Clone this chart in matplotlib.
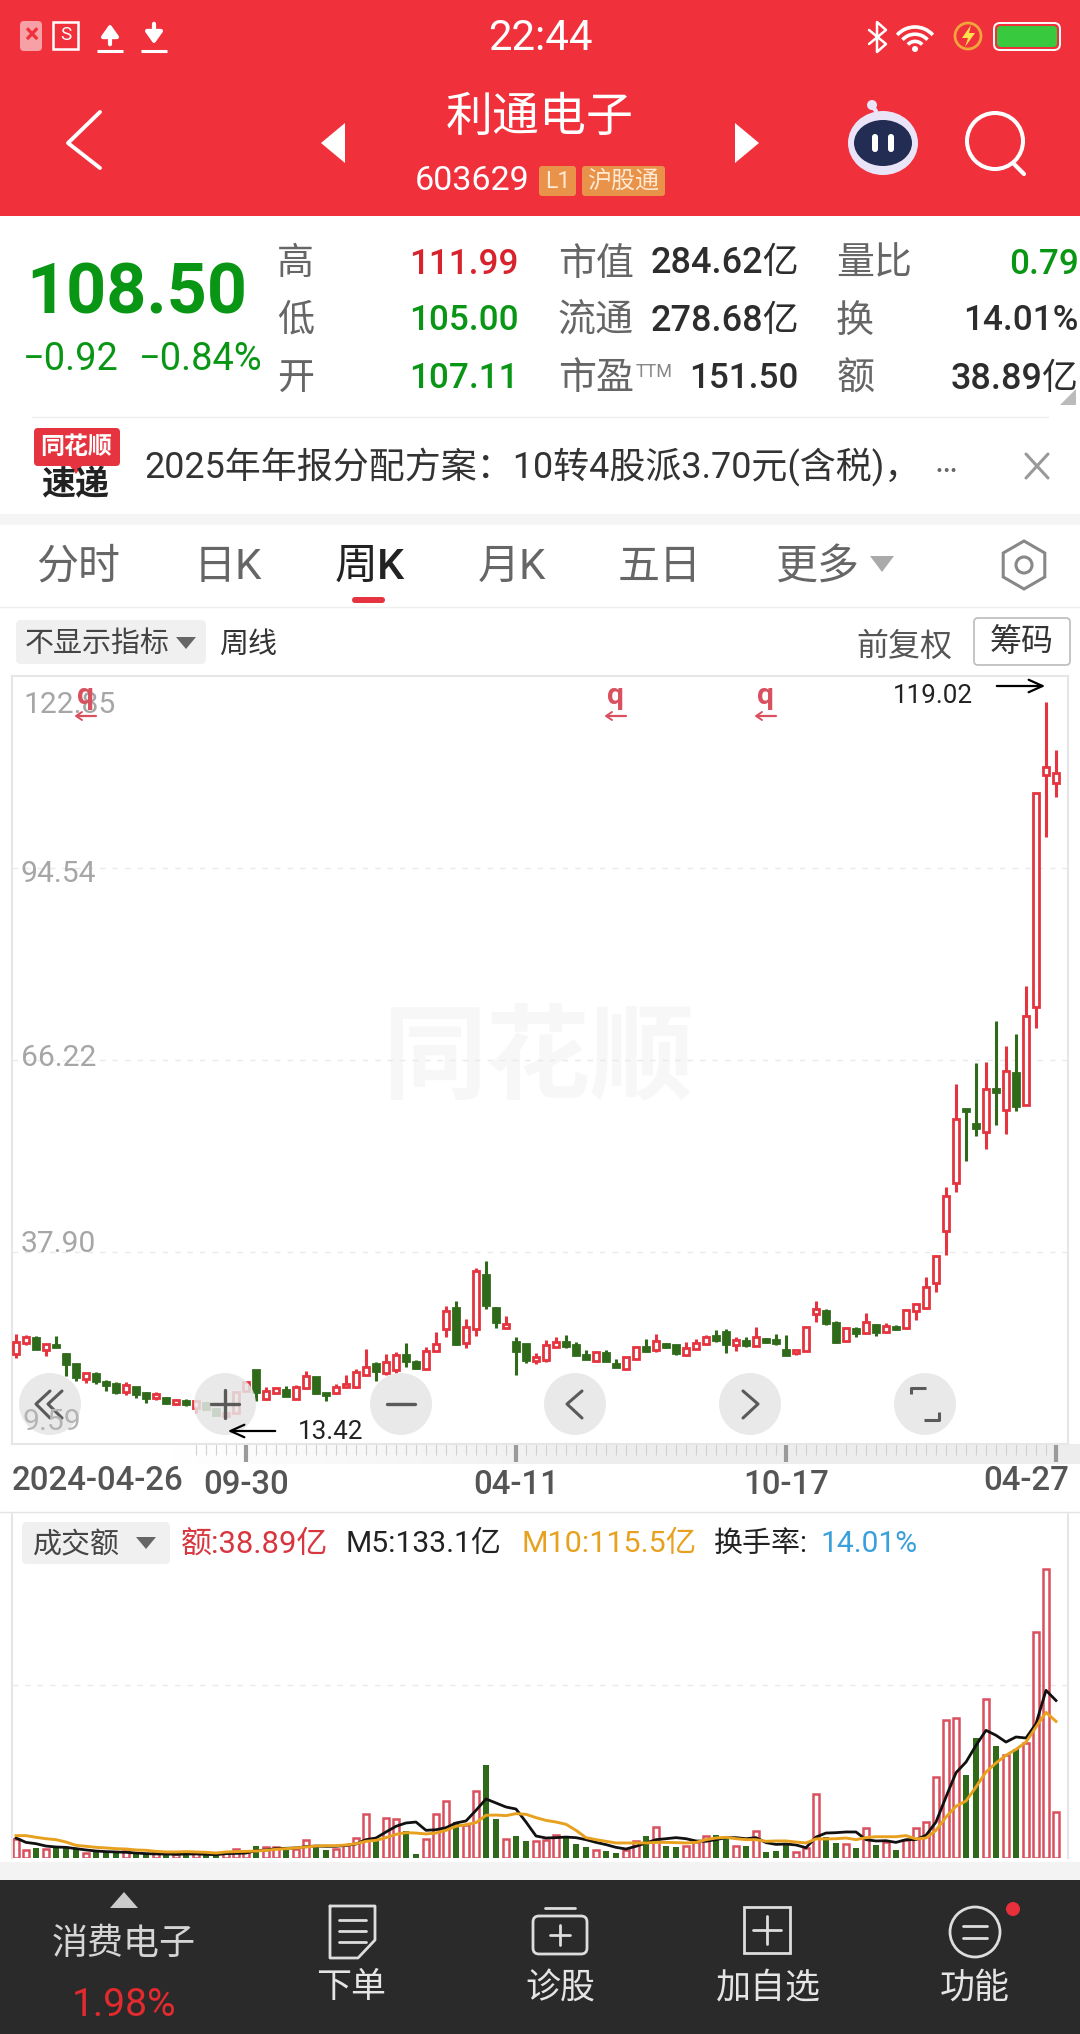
import numpy as np
import matplotlib
matplotlib.use('Agg')
import matplotlib.pyplot as plt
from matplotlib.patches import Rectangle, Circle, FancyBboxPatch, Polygon, Ellipse, RegularPolygon, Arc

plt.rcParams['font.family'] = ['Roboto', 'Noto Sans CJK SC', 'DejaVu Sans']

# weekly k line
opens = [22.86,24.53,25.17,23.45,24.14,22.86,21.38,19.12,19.91,18.68,18.38,17.25,17.99,17.06,16.32,16.37,15.53,15.93,14.84,15.68,14.75,13.71,14.11,17.4,20.5,
16.17,17.15,17.55,16.27,17.79,19.42,17.15,17.06,18.04,18.04,19.71,21.38,20.0,20.5,22.71,21.73,20.65,23.35,26.5,29.59,
24.43,26.5,34.51,29.59,26.74,24.63,24.33,21.83,21.97,23.94,24.63,24.18,22.71,21.87,22.96,21.38,20.6,22.17,23.84,23.45,
24.38,24.14,22.66,23.55,24.28,25.51,26.14,24.24,24.82,24.09,25.04,24.89,23.43,23.06,23.35,28.71,29.22,27.46,24.82,26.51,
25.92,27.1,26.14,26.88,26.66,29.22,29.59,33.33,40.96,48.01,59.02,56.82,55.64,61.88,58.87,64.37,59.53,73.98,108.18,107.11]
highs = [25.76,25.66,25.51,24.28,25.51,22.96,21.38,20.0,20.15,18.97,18.73,18.73,17.99,17.2,17.2,16.56,16.17,16.27,15.88,15.68,14.75,14.35,17.2,18.68,20.5,
17.94,17.79,18.14,18.29,20.4,19.42,17.15,18.43,19.76,20.6,23.59,21.73,22.81,23.1,24.43,21.97,23.84,26.05,29.94,30.67,
27.97,35.59,36.57,29.74,28.46,25.32,24.33,23.05,24.92,25.32,25.66,24.58,23.45,23.2,23.45,22.12,22.46,24.04,25.07,25.76,
24.53,24.23,24.58,25.02,25.66,26.4,26.51,25.41,25.41,26.88,25.26,25.78,25.63,23.5,26.88,30.69,29.52,27.76,26.88,26.88,
28.86,27.24,27.39,27.17,29.44,30.32,34.21,37.52,47.42,62.68,59.16,65.77,65.99,71.93,68.34,70.02,77.14,105.54,119.02,111.99]
lows = [22.22,24.18,23.55,22.61,23.94,19.61,18.92,18.63,18.48,17.45,17.0,16.81,16.42,15.68,16.07,15.48,15.39,15.24,14.2,14.75,13.91,13.42,14.11,17.3,15.97,
16.07,17.06,16.71,16.17,17.7,16.96,15.97,16.96,17.99,17.79,19.61,18.92,19.76,20.0,20.99,20.65,20.5,23.2,25.41,24.18,
23.79,25.56,29.49,26.74,26.64,19.76,21.58,21.38,21.73,23.84,23.74,22.71,22.12,21.73,21.87,20.94,20.5,22.07,23.2,23.2,
23.74,22.76,22.61,23.55,24.18,24.68,23.06,23.35,23.94,24.09,24.45,24.16,22.77,22.77,23.35,27.61,27.17,24.53,24.67,25.41,
25.78,25.56,26.0,26.44,26.51,27.9,29.44,32.01,37.52,46.69,51.31,54.98,53.15,56.6,55.35,58.65,59.53,70.9,99.15,105.0]
closes = [24.68,25.32,23.55,24.28,23.94,21.38,19.51,20.0,18.92,18.33,17.3,18.33,16.91,16.37,16.91,15.68,16.02,15.53,15.88,14.75,13.91,14.11,17.2,18.68,17.3,
17.45,17.79,16.71,18.04,19.66,17.06,16.76,18.04,18.43,20.15,20.99,20.35,21.63,22.71,21.87,20.84,23.3,24.33,29.25,24.28,
26.79,35.15,30.08,27.58,27.23,23.3,21.97,22.46,24.18,24.58,24.04,22.76,22.17,23.1,21.87,20.99,22.46,23.94,23.3,24.82,
23.94,22.96,23.79,24.53,25.41,24.92,24.31,24.97,24.24,25.41,24.6,24.53,22.77,23.5,26.88,29.44,27.46,24.67,26.73,25.92,
27.61,26.14,27.02,26.51,29.3,30.18,32.75,37.37,46.1,57.55,58.72,56.23,61.88,61.44,64.59,59.46,72.74,105.54,109.42,108.5]

# turnover in 亿 and its moving averages
volume = [16.3,6.5,8.7,7.6,10.1,9.3,7.9,4.2,4.8,5.4,4.2,5.9,5.4,3.7,5.1,4.2,3.7,4.2,5.1,4.2,3.7,5.1,7.6,5.1,10.4,
9.3,9.3,6.5,7.9,14.9,10.7,6.5,7.6,10.7,16.9,36.9,16.3,33.8,33.0,23.1,3.1,16.1,36.9,48.2,30.4,
27.6,56.6,78.3,32.7,16.1,18.3,14.1,14.4,14.9,19.2,16.9,12.1,9.0,6.5,6.2,4.5,7.0,14.4,18.9,26.2,
9.9,9.0,10.1,13.5,18.3,19.7,16.3,10.1,9.9,22.8,4.8,5.6,12.1,5.1,8.7,53.8,17.7,12.4,11.8,8.2,
25.4,10.7,13.5,6.5,14.9,25.4,30.4,68.5,116.3,118.3,69.9,101.7,134.1,94.4,87.0,92.4,97.2,191.0,244.0,38.89]
m5 = [16.9,13.2,12.1,10.1,9.3,9.0,7.9,6.8,5.9,5.4,5.1,4.8,4.2,3.7,3.4,3.4,3.1,3.4,3.4,3.1,2.8,3.7,3.9,4.2,6.2,
6.8,7.9,8.2,8.5,9.6,10.1,9.9,9.9,10.7,11.8,15.5,16.9,22.0,26.8,29.6,30.4,23.4,23.9,25.6,29.6,
31.3,40.3,49.9,46.5,43.1,41.4,30.4,18.6,16.9,17.2,17.7,17.2,15.5,13.2,11.3,9.0,7.6,9.9,12.7,15.5,
16.3,17.2,16.3,14.4,14.1,15.5,17.2,17.2,16.3,17.2,13.0,11.5,11.8,11.0,8.7,17.7,21.1,21.4,22.0,22.0,
15.5,14.4,14.6,13.2,15.5,15.5,19.2,30.4,51.6,72.1,81.1,95.2,107.9,103.7,98.0,102.3,101.4,113.5,141.7,133.1]
m10 = [18.9,18.9,17.5,16.3,15.5,13.5,10.7,9.9,9.0,8.5,7.9,7.6,6.8,6.5,5.6,5.1,5.1,5.4,5.1,4.8,4.2,5.1,5.4,5.6,5.9,
6.5,7.3,7.9,8.5,9.3,10.1,10.4,10.4,11.0,12.1,14.1,14.9,17.2,20.0,21.4,21.1,20.3,21.1,23.4,26.8,
28.2,29.9,36.1,36.3,35.8,37.5,36.9,34.1,31.8,30.4,28.5,23.4,17.2,15.5,14.1,12.7,12.7,12.7,12.7,13.2,
13.2,13.0,12.7,13.2,15.5,16.9,17.5,16.3,15.5,15.5,14.1,14.4,14.4,13.5,12.7,16.1,16.1,16.3,16.9,15.5,
17.2,18.0,18.0,18.0,18.9,16.1,16.9,23.4,34.6,43.7,48.2,60.0,72.7,80.3,86.8,91.8,98.0,110.7,123.1,115.5]

price_ticks = [94.54, 66.22, 37.90]
date_ticks = [23, 50, 77]
date_labels = ['09-30', '04-11', '10-17']

RED = '#E5343F'
GREEN = '#2F6A1B'
VRED = '#D9505F'
W, H = 1080, 2034

fig = plt.figure(figsize=(10.8, 20.34), dpi=100)


def px_axes(l, t, r, b, z):
    return fig.add_axes([l / W, 1 - b / H, (r - l) / W, (b - t) / H], zorder=z)


bg = px_axes(0, 0, W, H, 0)
bg.set_xlim(0, W); bg.set_ylim(H, 0); bg.axis('off')
fg = px_axes(0, 0, W, H, 5)
fg.set_xlim(0, W); fg.set_ylim(H, 0); fg.axis('off'); fg.patch.set_alpha(0)


def t(x, y, s, px, color='#333333', ha='left', va='center', ax=fg, **kw):
    return ax.text(x, y + 6, s, fontsize=px * 0.72, color=color, ha=ha, va=va, **kw)


def line(xs, ys, color='white', lw=2.0, ax=fg, **kw):
    ax.plot(xs, ys, color=color, lw=lw, solid_capstyle=kw.pop('cap', 'round'), **kw)


# backgrounds
bg.add_patch(Rectangle((0, 0), W, 216, color='#F0313B', lw=0))
bg.add_patch(Rectangle((0, 514), W, 11, color='#F5F5F5', lw=0))
bg.plot([32, 1048], [417, 417], color='#EEEEEE', lw=1)
bg.plot([0, W], [607, 607], color='#EEEEEE', lw=1)
bg.plot([0, W], [1512, 1512], color='#E4E4E4', lw=1)
bg.add_patch(Rectangle((0, 1862), W, 18, color='#F3F3F3', lw=0))
bg.add_patch(Rectangle((0, 1880), W, 154, color='#2A2A2A', lw=0))
grad = np.linspace(0, 1, 256).reshape(1, -1)
bg.imshow(np.dstack([np.full((1, 256, 3), 0.93), np.clip(grad * 2, 0, 1)]), extent=(170, W, 1464, 1444), aspect='auto', zorder=1)
bg.set_xlim(0, W); bg.set_ylim(H, 0)
t(538, 1056, '同花顺', 104, '#F7F7F7', 'center', ax=bg, fontweight='bold', zorder=2)

# candles
price = px_axes(12, 676, 1068, 1444, 2)
price.patch.set_alpha(0)
xs = np.arange(len(opens))
for i in xs:
    o, h, l, c = opens[i], highs[i], lows[i], closes[i]
    up = c >= o
    col = RED if up else GREEN
    top, bot = max(o, c), min(o, c)
    price.vlines(i, top, h, color=col, lw=2.2)
    price.vlines(i, l, bot, color=col, lw=2.2)
    price.bar(i, top - bot, bottom=bot, width=0.58, facecolor='white' if up else col, edgecolor=col, lw=2.0, zorder=3)
price.set_xlim(-0.4, 105.2)
price.set_ylim(9.59, 122.85)
price.set_yticks(price_ticks)
price.set_yticklabels([])
price.tick_params(axis='y', length=0)
price.grid(axis='y', color='#EAEAEA', ls=(0, (4, 5)), lw=1)
price.set_axisbelow(True)
price.set_xticks(date_ticks + [104])
price.set_xticklabels(date_labels + [''], fontsize=33 * 0.72, color='#555555', fontweight='medium')
price.tick_params(axis='x', which='major', length=13, width=3, color='#9A9A9A', pad=5)
price.set_xticks(np.arange(18, 105), minor=True)
price.tick_params(axis='x', which='minor', length=8, width=0.8, color='#D0D0D0')
for s in price.spines.values():
    s.set_color('#E6E6E6'); s.set_linewidth(1.5)

# turnover pane
vol = px_axes(12, 1513, 1068, 1858, 2)
vol.patch.set_alpha(0)
for i in xs:
    if closes[i] >= opens[i]:
        vol.bar(i, volume[i], width=0.52, facecolor='white', edgecolor=VRED, lw=1.8)
    else:
        vol.bar(i, volume[i], width=0.65, color=GREEN, lw=0)
vol.plot(xs, m5, color='#111111', lw=2.0, zorder=4)
vol.plot(xs, m10, color='#E8A11F', lw=2.1, zorder=5)
vol.set_xlim(-0.4, 105.2)
vol.set_ylim(0, 291.6)
vol.set_yticks([146])
vol.set_yticklabels([])
vol.set_xticks([])
vol.tick_params(axis='y', length=0)
vol.grid(axis='y', color='#EAEAEA', ls=(0, (4, 5)), lw=1)
vol.set_axisbelow(True)
for k, s in vol.spines.items():
    s.set_visible(k in ('left', 'right'))
    s.set_color('#E6E6E6'); s.set_linewidth(1.5)

# price labels on the chart
t(23, 699, '122.85', 30, '#A6A6A6')
t(21, 868, '94.54', 30, '#A6A6A6')
t(21, 1052, '66.22', 30, '#A6A6A6')
t(21, 1238, '37.90', 30, '#A6A6A6')
t(973, 690, '119.02', 26, '#222222', 'right')
fg.annotate('', xy=(1048, 686), xytext=(994, 686), arrowprops=dict(arrowstyle='->,head_width=0.45,head_length=1.0', color='black', lw=1.6))
t(298, 1426, '13.42', 26, '#222222')
fg.annotate('', xy=(225, 1431), xytext=(278, 1431), arrowprops=dict(arrowstyle='->,head_width=0.45,head_length=1.0', color='black', lw=1.6))
t(12, 1475, '2024-04-26', 33, '#555555', fontweight='medium')
t(1026, 1475, '04-27', 33, '#555555', 'center', fontweight='medium')
for qx in (86, 616, 766):
    t(qx, 690, 'q', 30, '#D9505F', 'center', fontweight='bold')
    line([qx - 8, qx + 10], [716, 716], '#D9505F', 1.6)
    line([qx - 4, qx - 10, qx - 4], [712, 716, 720], '#D9505F', 1.4)

# round buttons over the chart
for cx in (50, 225, 401, 575, 750, 925):
    fg.add_patch(Circle((cx, 1404), 31, facecolor='#E6E6E6', alpha=0.85, lw=0))
t(22, 1416, '9.59', 30, '#B4B4B4')
c = '#5A5A5A'
line([50, 36, 50], [1391, 1404, 1418], c, 2.2); line([62, 48, 62], [1391, 1404, 1418], c, 2.2)
line([225, 225], [1390, 1418], c, 2.4); line([211, 239], [1404, 1404], c, 2.4)
line([387, 415], [1404, 1404], c, 2.4)
line([582, 567, 582], [1391, 1404, 1418], c, 2.2)
line([743, 758, 743], [1391, 1404, 1418], c, 2.2)
line([911, 911, 926], [1394, 1388, 1388], c, 2.2, cap='butt')
line([924, 939, 939], [1420, 1420, 1412], c, 2.2, cap='butt')

# status bar
fg.add_patch(FancyBboxPatch((20, 21), 22, 30, boxstyle='round,pad=0,rounding_size=4', fc='#F7A0A5', lw=0))
t(31, 30, '×', 27, '#F0313B', 'center', fontweight='bold')
fg.add_patch(Rectangle((53, 22), 25, 27, fc='none', ec='white', lw=1.8))
t(66, 29, 'S', 19, 'white', 'center')
for ax_x, up in ((110, True), (154, False)):
    y0, y1 = (47, 21) if up else (21, 47)
    fg.annotate('', xy=(ax_x, y1), xytext=(ax_x, y0),
                arrowprops=dict(arrowstyle='-|>,head_width=0.5,head_length=0.7', color='white', lw=3))
    line([ax_x - 13, ax_x + 13], [51, 51], 'white', 2.2, cap='butt')
t(540, 32, '22:44', 42, 'white', 'center')
line([869, 886, 877, 877, 886, 869], [30, 44, 52, 22, 30, 44], 'white', 1.8)
for r in (30, 21, 12):
    fg.add_patch(Arc((915, 51), r * 1.6, r * 1.6, theta1=222, theta2=318, ec='white', lw=2.6))
fg.add_patch(Circle((915, 49), 3, fc='white', lw=0))
fg.add_patch(Circle((968, 36), 13, fc='none', ec='#F0A63A', lw=2))
fg.add_patch(Polygon([[971, 25], [962, 38], [968, 38], [965, 47], [975, 33], [969, 33]], fc='#FFE14D', lw=0))
fg.add_patch(FancyBboxPatch((994, 23), 66, 27, boxstyle='round,pad=0,rounding_size=6', fc='none', ec='white', lw=1.4))
fg.add_patch(FancyBboxPatch((997, 26), 60, 21, boxstyle='round,pad=0,rounding_size=4', fc='#38C93F', lw=0))

# title bar
line([100, 68, 100], [112, 143, 168], 'white', 2.8)
fg.add_patch(Polygon([[345, 123], [345, 163], [321, 143]], fc='white', lw=0))
fg.add_patch(Polygon([[735, 123], [735, 163], [759, 143]], fc='white', lw=0))
t(540, 112, '利通电子', 47, 'white', 'center', family=['Noto Sans CJK SC'])
t(472, 175, '603629', 34, 'white', 'center')
fg.add_patch(FancyBboxPatch((539, 166), 37, 30, boxstyle='round,pad=0,rounding_size=3', fc='#E8924A', lw=0))
t(557.5, 175, 'L1', 23, '#FFE9D2', 'center')
fg.add_patch(FancyBboxPatch((582, 166), 83, 30, boxstyle='round,pad=0,rounding_size=3', fc='#E8924A', lw=0))
t(623.5, 175, '沪股通', 24, '#FFE9D2', 'center')
fg.add_patch(Ellipse((883, 143), 70, 64, fc='#E9E4F7', lw=0))
fg.add_patch(Ellipse((883, 143), 58, 46, fc='#232C52', lw=0))
fg.add_patch(FancyBboxPatch((872, 134), 6, 18, boxstyle='round,pad=0,rounding_size=3', fc='white', lw=0))
fg.add_patch(FancyBboxPatch((888, 134), 6, 18, boxstyle='round,pad=0,rounding_size=3', fc='white', lw=0))
line([876, 872], [111, 106], '#E9E4F7', 3)
fg.add_patch(Circle((872, 105), 5, fc='#E9E4F7', lw=0))
fg.add_patch(Circle((995, 141), 28, fc='none', ec='white', lw=2.9))
line([1013, 1024], [163, 174], 'white', 3)

# quote table
G = '#0A9615'
K = '#2D2D2D'
L = '#666666'
t(26, 288, '108.50', 70, G, fontweight='bold')
t(23, 354, '−0.92', 38, G)
t(263, 354, '−0.84%', 38, G, 'right')
rows = [258, 315, 373]
for y, a, b, bc in zip(rows, ['高', '低', '开'], ['111.99', '105.00', '107.11'], ['#D8232C', G, G]):
    t(277, y, a, 37, L)
    t(519, y, b, 35, bc, 'right', fontweight='medium')
t(558, rows[0], '市值', 38, L); t(799, rows[0], '284.62亿', 36, K, 'right', fontweight='medium')
t(558, rows[1], '流通', 38, L); t(799, rows[1], '278.68亿', 36, K, 'right', fontweight='medium')
t(558, rows[2], '市盈', 38, L); t(636, rows[2] - 7, 'TTM', 18, '#888888')
t(799, rows[2], '151.50', 35, K, 'right', fontweight='medium')
t(836, rows[0], '量比', 38, L); t(1079, rows[0], '0.79', 35, G, 'right', fontweight='medium')
t(836, rows[1], '换', 38, L); t(1079, rows[1], '14.01%', 35, K, 'right', fontweight='medium')
t(836, rows[2], '额', 38, L); t(1079, rows[2], '38.89亿', 36, K, 'right', fontweight='medium')
fg.add_patch(Polygon([[1076, 389], [1076, 405], [1060, 405]], fc='#BBBBBB', lw=0))

# news strip
fg.add_patch(FancyBboxPatch((34, 428), 86, 38, boxstyle='round,pad=0,rounding_size=4', fc='#E5343F', lw=0))
fg.add_patch(Polygon([[70, 466], [82, 466], [76, 474]], fc='#E5343F', lw=0))
t(76, 441, '同花顺', 24, 'white', 'center', fontweight='bold')
t(75, 480, '速递', 34, '#222222', 'center', fontweight='bold')
t(144, 461, '2025年年报分配方案：10转4股派3.70元(含税)，', 36, '#333333')
t(946, 457, '…', 34, '#666666', 'center')
line([1026, 1048], [454, 478], '#999999', 2.2); line([1026, 1048], [478, 454], '#999999', 2.2)

# tabs
for x, s in ((78, '分时'), (228, '日K'), (512, '月K'), (660, '五日'), (817, '更多')):
    t(x, 561, s, 42, '#666666', 'center')
t(370, 561, '周K', 43, '#222222', 'center', fontweight='medium')
fg.add_patch(FancyBboxPatch((352, 597), 33, 6, boxstyle='round,pad=0,rounding_size=3', fc='#E5343F', lw=0))
fg.add_patch(Polygon([[870, 556], [894, 556], [882, 572]], fc='#AAAAAA', lw=0))
fg.add_patch(RegularPolygon((1024, 565), 6, radius=24, fc='none', ec='#888888', lw=2.2))
fg.add_patch(Circle((1024, 565), 8, fc='none', ec='#888888', lw=2.2))

# indicator row
fg.add_patch(FancyBboxPatch((16, 620), 190, 44, boxstyle='round,pad=0,rounding_size=5', fc='#F0F0F0', lw=0))
t(25, 638, '不显示指标', 29, '#444444')
fg.add_patch(Polygon([[176, 637], [196, 637], [186, 649]], fc='#666666', lw=0))
t(219, 639, '周线', 29, '#333333')
t(904, 641, '前复权', 32, '#555555', 'center')
fg.add_patch(FancyBboxPatch((974, 618), 96, 47, boxstyle='round,pad=0,rounding_size=4', fc='white', ec='#BBBBBB', lw=1.2))
t(1022, 636, '筹码', 32, '#333333', 'center')

# turnover legend
fg.add_patch(FancyBboxPatch((22, 1522), 148, 42, boxstyle='round,pad=0,rounding_size=5', fc='#F0F0F0', lw=0))
t(33, 1539, '成交额', 29, '#444444')
fg.add_patch(Polygon([[136, 1537], [156, 1537], [146, 1549]], fc='#666666', lw=0))
t(181, 1538, '额:38.89亿', 31, '#D8363F')
t(346, 1538, 'M5:133.1亿', 30, '#222222')
t(522, 1538, 'M10:115.5亿', 30.5, '#E8A11F')
t(714, 1538, '换手率:', 29, '#222222')
t(820, 1538, '14.01%', 30, '#3AA0DC')

# bottom bar
fg.add_patch(Polygon([[110, 1908], [138, 1908], [124, 1892]], fc='#CCCCCC', lw=0))
t(124, 1938, '消费电子', 36, '#D5D5D5', 'center')
t(124, 2000, '1.98%', 39, '#E22A2F', 'center')
for x, s in ((351, '下单'), (560, '诊股'), (768, '加自选'), (975, '功能')):
    t(x, 1982, s, 35, '#E5E5E5', 'center')
w = '#DDDDDD'
line([330, 375, 375, 358, 330, 330], [1906, 1906, 1940, 1958, 1958, 1906], w, 2)
for yy in (1920, 1931, 1942):
    line([339, 366], [yy, yy], w, 2)
fg.add_patch(FancyBboxPatch((533, 1916), 54, 38, boxstyle='round,pad=0,rounding_size=6', fc='none', ec=w, lw=2))
line([545, 575], [1908, 1908], w, 2)
line([550, 570], [1935, 1935], w, 2); line([560, 560], [1925, 1945], w, 2)
fg.add_patch(Rectangle((744, 1907), 46, 46, fc='none', ec=w, lw=2))
line([753, 781], [1930, 1930], w, 2); line([767, 767], [1916, 1944], w, 2)
fg.add_patch(Circle((975, 1932), 25, fc='none', ec=w, lw=2))
line([963, 987], [1926, 1926], w, 2); line([963, 987], [1938, 1938], w, 2)
fg.add_patch(Circle((1013, 1909), 7, fc='#E8303A', lw=0))

fig.savefig('out.png', dpi=100)
